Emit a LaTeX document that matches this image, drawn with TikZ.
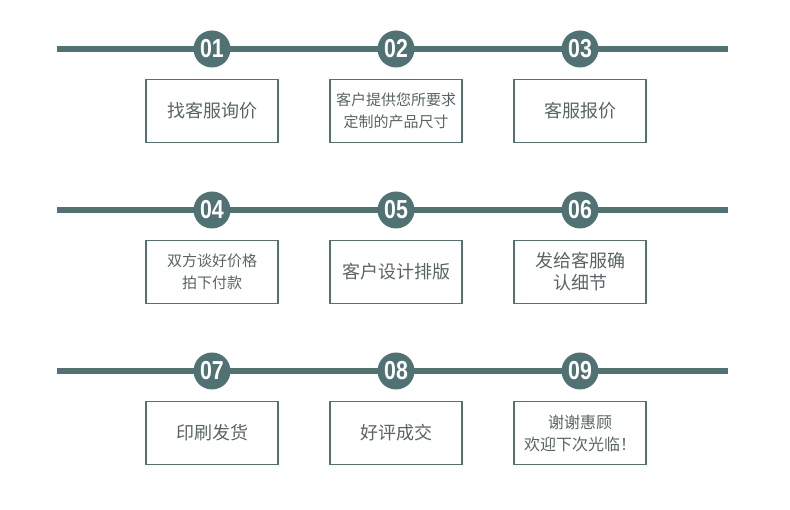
\documentclass[tikz,border=0pt]{standalone}
\usepackage{fontspec}
\newfontfamily\cjk{Noto Sans CJK SC}
\newfontfamily\numfont{Liberation Sans}[FakeStretch=0.82]
\definecolor{pizarra}{RGB}{80,114,114}
\definecolor{texto}{RGB}{88,100,100}

\begin{document}
\begin{tikzpicture}[x=1pt, y=-1pt,
  caja/.style={draw=pizarra, line width=1.1pt, minimum width=132pt,
    minimum height=63pt, inner sep=0pt, align=center, text=texto,
    font=\cjk\fontsize{18}{22}\selectfont},
  cajachica/.style={caja, font=\cjk\fontsize{15}{22}\selectfont},
  num/.style={circle, fill=pizarra, minimum size=37pt, inner sep=0pt,
    text=white, font=\numfont\bfseries\fontsize{26}{26}\selectfont},
  linea/.style={draw=pizarra, line width=6pt}]

      % Margenes
      \useasboundingbox (0,0) rectangle (790,510);

      %-------------------------------------
      % POSICIONES: columnas y filas
      %-------------------------------------
      \def\colA{212}
      \def\colB{396}
      \def\colC{580}
      \def\filaA{49}
      \def\filaB{210}
      \def\filaC{371}
      \def\bajar{62} % distancia de la linea a la caja

      % Extremos de las lineas
      \coordinate (iniA) at (57,\filaA);
      \coordinate (finA) at (728,\filaA);
      \coordinate (iniB) at (57,\filaB);
      \coordinate (finB) at (728,\filaB);
      \coordinate (iniC) at (57,\filaC);
      \coordinate (finC) at (728,\filaC);

      % Lineas horizontales
      \draw[linea] (iniA) -- (finA);
      \draw[linea] (iniB) -- (finB);
      \draw[linea] (iniC) -- (finC);

      %-------------------------------------
      % CIRCULOS NUMERADOS
      %-------------------------------------
      \node[num] (n01) at (\colA,\filaA) {01};
      \node[num] (n02) at (\colB,\filaA) {02};
      \node[num] (n03) at (\colC,\filaA) {03};
      \node[num] (n04) at (\colA,\filaB) {04};
      \node[num] (n05) at (\colB,\filaB) {05};
      \node[num] (n06) at (\colC,\filaB) {06};
      \node[num] (n07) at (\colA,\filaC) {07};
      \node[num] (n08) at (\colB,\filaC) {08};
      \node[num] (n09) at (\colC,\filaC) {09};

      %-------------------------------------
      % CAJAS CON LOS PASOS
      %-------------------------------------
      \pgfmathsetmacro{\cajaA}{\filaA+\bajar}
      \pgfmathsetmacro{\cajaB}{\filaB+\bajar}
      \pgfmathsetmacro{\cajaC}{\filaC+\bajar}

      \node[caja] (c01) at (\colA,\cajaA) {找客服询价};
      \node[cajachica] (c02) at (\colB,\cajaA) {客户提供您所要求\\定制的产品尺寸};
      \node[caja] (c03) at (\colC,\cajaA) {客服报价};
      \node[cajachica] (c04) at (\colA,\cajaB) {双方谈好价格\\拍下付款};
      \node[caja] (c05) at (\colB,\cajaB) {客户设计排版};
      \node[caja] (c06) at (\colC,\cajaB) {发给客服确\\认细节};
      \node[caja] (c07) at (\colA,\cajaC) {印刷发货};
      \node[caja] (c08) at (\colB,\cajaC) {好评成交};
      \node[caja, font=\cjk\fontsize{16}{22}\selectfont] (c09) at (\colC,\cajaC) {谢谢惠顾\\欢迎下次光临！};

    \end{tikzpicture}
\end{document}
